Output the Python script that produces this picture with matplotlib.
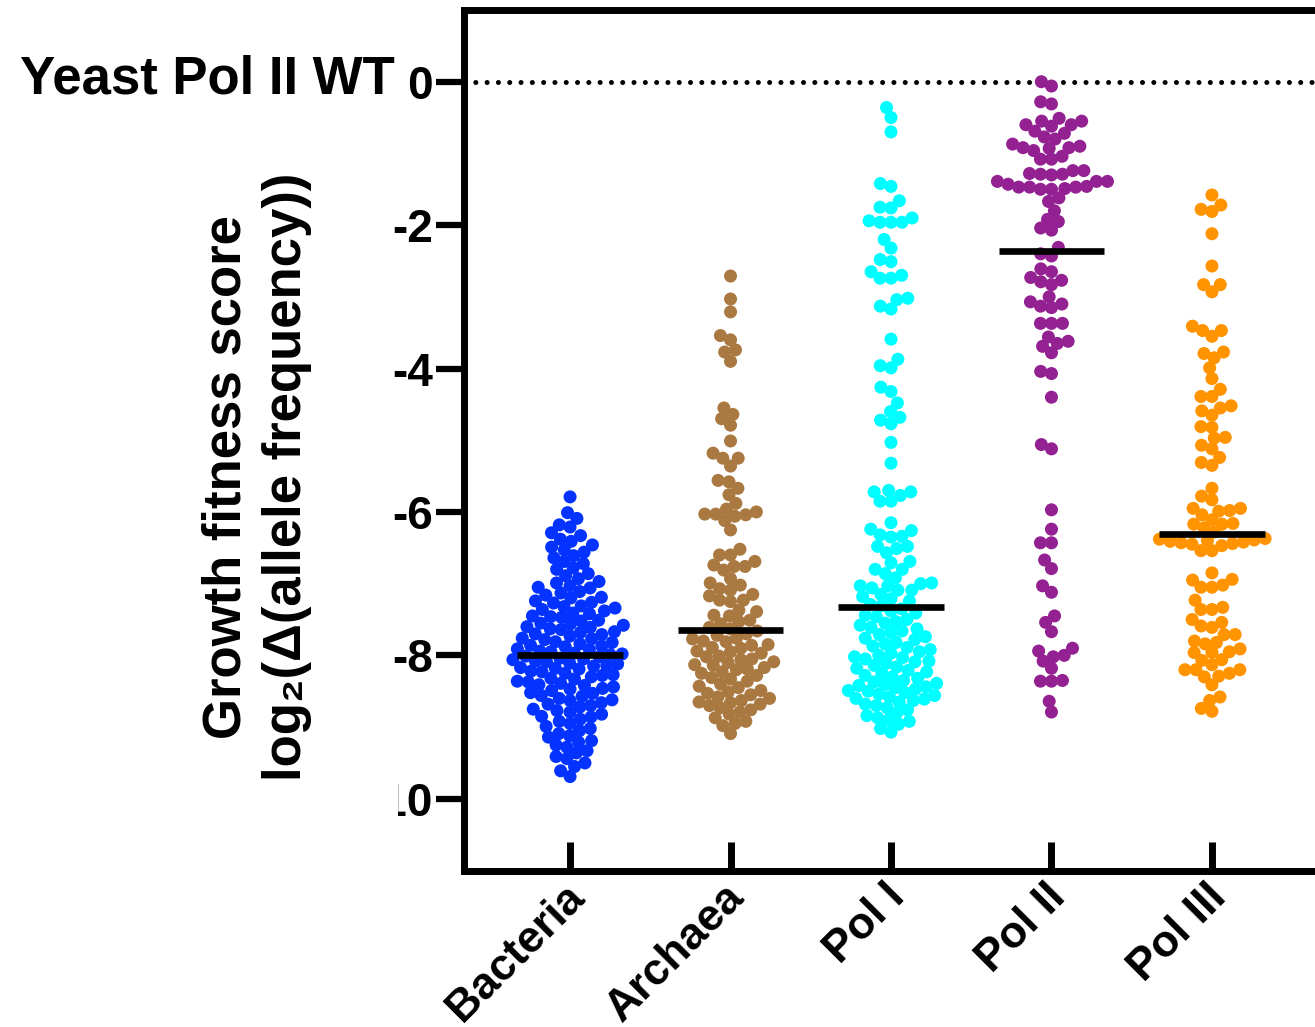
import numpy as np
import matplotlib
matplotlib.use("Agg")
import matplotlib.pyplot as plt
from matplotlib.patches import Rectangle
from matplotlib.transforms import ScaledTranslation

# values (log2 fitness scores)
categories = ["Bacteria", "Archaea", "Pol I", "Pol II", "Pol III"]
colors = ["#0433FF", "#AA7942", "#00FDFF", "#942192", "#FF9300"]
medians = [-8.00, -7.64, -7.33, -2.36, -6.31]

bacteria = [-5.79, -6.01, -6.09, -6.18, -6.21, -6.29, -6.33, -6.38, -6.41, -6.46, -6.49, -6.53, -6.56,
            -6.61, -6.64, -6.69, -6.72, -6.78, -6.80, -6.86, -6.89, -6.93, -6.97, -6.99, -7.03,
            -7.05, -7.06, -7.11, -7.13, -7.16, -7.19, -7.20, -7.24, -7.26, -7.27, -7.31, -7.32, -7.34,
            -7.36, -7.38, -7.41, -7.42, -7.45, -7.46, -7.47, -7.51, -7.52, -7.55, -7.56, -7.58, -7.60,
            -7.61, -7.63, -7.64, -7.67, -7.68, -7.70, -7.71, -7.73, -7.76, -7.77, -7.78, -7.81, -7.82,
            -7.84, -7.86, -7.87, -7.88, -7.91, -7.92, -7.94, -7.95, -7.97, -7.98, -7.99,
            -8.01, -8.02, -8.04, -8.05, -8.06, -8.08, -8.09, -8.11, -8.12, -8.14, -8.15, -8.17, -8.18,
            -8.19, -8.22, -8.23, -8.25, -8.27, -8.28, -8.30, -8.32, -8.33, -8.36, -8.37, -8.39, -8.41,
            -8.42, -8.44, -8.46, -8.47, -8.49, -8.52, -8.53, -8.56, -8.57, -8.60, -8.62, -8.63, -8.66,
            -8.68, -8.70, -8.72, -8.75, -8.77, -8.79, -8.82, -8.85, -8.86, -8.89, -8.92, -8.95, -8.99,
            -9.02, -9.05, -9.09, -9.12, -9.14, -9.19, -9.21, -9.25, -9.28, -9.33, -9.36, -9.41, -9.44,
            -9.50, -9.55, -9.61, -9.69]

archaea = [-2.71, -3.03, -3.21, -3.54, -3.60, -3.74, -3.77, -3.90, -4.55, -4.64, -4.70, -4.79, -5.01,
           -5.18, -5.25, -5.25, -5.36, -5.56, -5.58, -5.67, -5.76, -5.88, -5.96, -6.00, -6.03, -6.04,
           -6.06, -6.03, -6.12, -6.25, -6.52, -6.60, -6.60, -6.69, -6.74, -6.76, -6.76, -6.81, -6.93,
           -6.99, -7.02, -7.09, -7.07, -7.15, -7.17, -7.23, -7.25, -7.23, -7.37, -7.39, -7.44, -7.45,
           -7.51, -7.53, -7.56, -7.61, -7.63, -7.66, -7.70, -7.72, -7.76, -7.77, -7.80, -7.81, -7.85,
           -7.86, -7.89, -7.90, -7.94, -7.95, -7.97, -8.01, -8.02, -8.05, -8.06, -8.09, -8.10, -8.13,
           -8.14, -8.17, -8.19, -8.20, -8.23, -8.25, -8.28, -8.31, -8.33, -8.36, -8.40, -8.43, -8.45,
           -8.49, -8.51, -8.53, -8.55, -8.58, -8.60, -8.63, -8.65, -8.66, -8.68, -8.70, -8.73, -8.76,
           -8.79, -8.82, -8.87, -8.92, -8.95, -8.98, -9.09]

pol1 = [-0.36, -0.50, -0.70, -1.42, -1.46, -1.66, -1.75, -1.76, -1.90, -1.96, -1.96, -1.94, -1.96,
        -2.20, -2.32, -2.48, -2.51, -2.70, -2.74, -2.74, -2.65, -3.04, -3.02, -3.17, -3.13, -3.59,
        -3.87, -3.96, -3.99, -4.26, -4.32, -4.48, -4.60, -4.77, -4.72, -4.68, -5.03, -5.32, -5.70,
        -5.85, -5.85, -5.77, -5.72, -5.72, -6.15, -6.24, -6.26, -6.35, -6.32, -6.34, -6.48, -6.48,
        -6.51, -6.57, -6.69, -6.71, -6.80, -6.80, -6.86, -6.92, -6.99, -7.00, -7.06, -7.09, -7.03,
        -7.03, -7.09, -7.15, -7.18, -7.21, -7.24, -7.29, -7.31, -7.35, -7.38, -7.41, -7.44, -7.46,
        -7.50, -7.53, -7.55, -7.58, -7.61, -7.63, -7.66, -7.68, -7.71, -7.74, -7.76, -7.78, -7.82,
        -7.84, -7.87, -7.89, -7.92, -7.95, -7.97, -8.00, -8.02, -8.03, -8.05, -8.08, -8.09, -8.11,
        -8.14, -8.16, -8.18, -8.21, -8.23, -8.25, -8.28, -8.30, -8.32, -8.35, -8.37, -8.39, -8.41,
        -8.42, -8.44, -8.45, -8.47, -8.49, -8.50, -8.52, -8.54, -8.56, -8.58, -8.60, -8.61, -8.63,
        -8.65, -8.68, -8.70, -8.73, -8.76, -8.80, -8.84, -8.87, -8.90, -8.92, -8.96, -9.02, -9.07]

pol2 = [0.00, -0.06, -0.31, -0.28, -0.51, -0.55, -0.55, -0.60, -0.62, -0.60, -0.69, -0.72, -0.77,
        -0.80, -0.87, -0.92, -0.93, -0.96, -0.92, -0.90, -1.04, -1.08, -1.08, -1.24, -1.24, -1.30,
        -1.29, -1.29, -1.28, -1.39, -1.39, -1.39, -1.46, -1.43, -1.47, -1.47, -1.47, -1.50, -1.50,
        -1.49, -1.62, -1.67, -1.80, -1.92, -1.95, -2.04, -2.07, -2.31, -2.40, -2.43, -2.61, -2.65,
        -2.73, -2.77, -2.79, -2.83, -3.00, -3.07, -3.10, -3.13, -3.15, -3.37, -3.37, -3.37, -3.56,
        -3.62, -3.65, -3.69, -3.78, -4.04, -4.07, -4.40, -5.06, -5.12, -5.97, -6.24, -6.43, -6.43,
        -6.67, -6.79, -7.03, -7.12, -7.45, -7.54, -7.67, -7.94, -7.90, -8.02, -8.00, -8.08, -8.18,
        -8.36, -8.35, -8.36, -8.64, -8.79]

pol3 = [-1.58, -1.72, -1.78, -1.81, -2.12, -2.57, -2.83, -2.83, -2.93, -3.41, -3.47, -3.47, -3.55,
        -3.77, -3.79, -3.85, -3.99, -4.14, -4.29, -4.39, -4.39, -4.52, -4.55, -4.59, -4.65, -4.81,
        -4.82, -4.96, -4.97, -5.07, -5.12, -5.24, -5.31, -5.35, -5.67, -5.78, -5.83, -5.95, -5.95,
        -5.98, -5.99, -6.04, -6.11, -6.16, -6.17, -6.17, -6.22, -6.28, -6.37, -6.38, -6.39, -6.40,
        -6.41, -6.42, -6.43, -6.44, -6.45, -6.47, -6.54, -6.54, -6.85, -6.94, -6.95, -7.02, -7.05,
        -7.05, -7.23, -7.33, -7.36, -7.36, -7.50, -7.54, -7.59, -7.61, -7.71, -7.71, -7.80, -7.82,
        -7.84, -7.91, -7.95, -7.96, -7.96, -8.06, -8.07, -8.13, -8.20, -8.20, -8.20, -8.25, -8.29,
        -8.30, -8.41, -8.58, -8.63, -8.74, -8.78]

groups = [bacteria, archaea, pol1, pol2, pol3]
ytick_vals = [0, -2, -4, -6, -8, -10]
ytick_labels = ["0", "-2", "-4", "-6", "-8", "-10"]

plt.rcParams['font.family'] = ['Liberation Sans', 'DejaVu Sans']
plt.rcParams['font.weight'] = 'bold'

W, H = 1315, 1027
fig = plt.figure(figsize=(W / 100, H / 100), dpi=100)
ax = fig.add_axes([463.5 / W, 156.5 / H, 855 / W, 860.5 / H])
ax.set_xlim(-0.664, 4.664)
ax.set_ylim(-11, 1)

px_x = 855 / 5.328     # pixels per category
px_y = 860.5 / 12      # pixels per unit
dot = 11.0             # min centre distance in pixels (dots overlap a little)


def swarm(vals):
    y = np.asarray(vals) * px_y
    xs = np.zeros(len(y))
    done = []
    for i in np.argsort(y):
        near = [(xs[j], y[j]) for j in done if abs(y[j] - y[i]) < dot]
        cands = [0.0]
        for qx, qy in near:
            dx = np.sqrt(dot ** 2 - (qy - y[i]) ** 2)
            cands += [qx - dx, qx + dx]
        cands.sort(key=abs)
        for c in cands:
            if all((c - qx) ** 2 + (y[i] - qy) ** 2 >= dot ** 2 - 1e-6 for qx, qy in near):
                xs[i] = c
                break
        done.append(i)
    return xs / px_x


for k, (vals, col) in enumerate(zip(groups, colors)):
    ax.scatter(k + swarm(vals), vals, s=88, color=col, edgecolors='none', zorder=3)
    ax.plot([k - 0.33, k + 0.33], [medians[k]] * 2, color='black', lw=4.8,
            solid_capstyle='butt', zorder=4)

ax.axhline(0, color='black', lw=3.6, linestyle=(0, (0.01, 2.25)), dash_capstyle='round', zorder=2)

for side in ['left', 'top', 'bottom']:
    ax.spines[side].set_linewidth(5)
ax.spines['right'].set_visible(False)

ax.set_yticks(ytick_vals)
ax.set_yticklabels(ytick_labels)
ax.tick_params(axis='y', direction='out', length=20, width=4.5, pad=2, labelsize=33)
ax.set_xticks(range(len(categories)))
ax.set_xticklabels(categories, rotation=45, ha='right', va='top', rotation_mode='anchor')
ax.tick_params(axis='x', direction='in', length=21, width=5, pad=4, labelsize=32)
shift = ScaledTranslation(-7 / 100, 0, fig.dpi_scale_trans)
for lab in ax.get_xticklabels():
    lab.set_transform(lab.get_transform() + shift)

# the reference hides the leading "-1" of the bottom tick label
fig.add_artist(Rectangle((340 / W, 1 - 818 / H), 57.5 / W, 40 / H, transform=fig.transFigure,
                         facecolor='white', edgecolor='none', zorder=10))

fig.text(395 / W, 1 - 80 / H, "Yeast Pol II WT", ha='right', va='center', fontsize=38,
         fontweight='bold')
fig.text(257 / W, 1 - 477 / H, "Growth fitness score\nlog\u2082(\u0394(allele frequency))",
         rotation=90, ha='center', va='center', multialignment='center', fontsize=38,
         fontweight='bold', linespacing=1.28)

fig.savefig("out.png", dpi=100)
